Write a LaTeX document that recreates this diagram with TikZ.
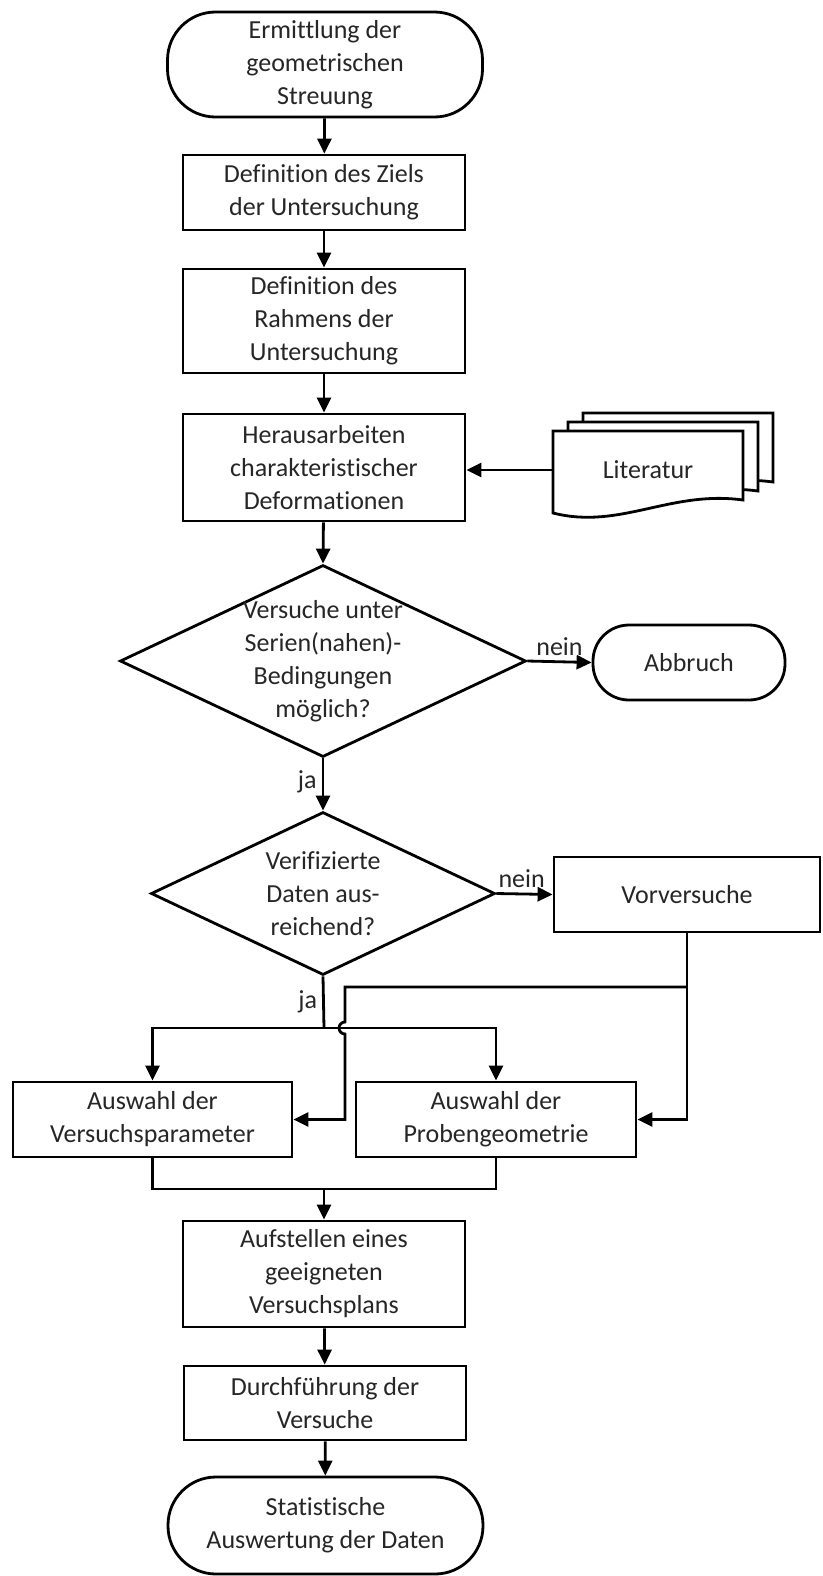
\documentclass[tikz,border=0pt]{standalone}
\usepackage{fontspec}
\setmainfont{Carlito}[Ligatures=NoCommon]
\usetikzlibrary{positioning,arrows.meta,shapes.geometric}

\begin{document}
\begin{tikzpicture}[
    x=0.5pt, y=-0.5pt,
    procbox/.style = {
        rectangle,
        draw=black,
        line width=1.4pt,
        fill=white,
        text=black!85,
        minimum width=141pt,
        align=center,
        inner sep=0pt,
        font=\fontsize{13}{16.5}\selectfont
    },
    termbox/.style = {
        procbox,
        minimum width=157.5pt,
        rounded corners=24pt
    },
    decbox/.style = {
        diamond,
        draw=black,
        line width=1.4pt,
        fill=white,
        inner sep=0pt
    },
    dectext/.style = {
        text=black!85,
        align=center,
        inner sep=0pt,
        font=\fontsize{13}{16.5}\selectfont
    },
    docsheet/.style = {
        draw=black,
        line width=1.4pt,
        fill=white
    },
    lbl/.style = {
        text=black!85,
        inner sep=2.5pt,
        font=\fontsize{13}{16.5}\selectfont
    },
    arrow/.style = {
        -{Triangle[length=7.5pt,width=7pt]},
        line width=1.4pt,
        draw=black
    },
    line/.style = {
        line width=1.4pt,
        draw=black
    }
]
\useasboundingbox (0,0) rectangle (823,1576);

% main column
\node (start) [termbox, minimum height=52.5pt] at (325,64.5) {Ermittlung der\\ geometrischen\\ Streuung};
\node (ziel) [procbox, minimum height=37.5pt] at (324,192.5) {Definition des Ziels\\ der Untersuchung};
\node (rahmen) [procbox, minimum height=52pt] at (324,321) {Definition des\\ Rahmens der\\ Untersuchung};
\node (deform) [procbox, minimum height=53.5pt] at (324,467.5) {Herausarbeiten\\ charakteristischer\\ Deformationen};

% literature stack
\draw [docsheet] (583,413) -- (773,413) -- (773,482) .. controls (700,472) and (650,512) .. (583,495) -- cycle;
\draw [docsheet] (568,422) -- (758,422) -- (758,491) .. controls (685,481) and (635,521) .. (568,504) -- cycle;
\draw [docsheet] (553,431) -- (743,431) -- (743,500) .. controls (670,490) and (620,530) .. (553,513) -- cycle;
\node (lit) [lbl, minimum width=95pt, inner sep=0pt] at (648,470) {Literatur};

% decisions
\node (d1) [decbox, minimum width=203pt, minimum height=96pt] at (323,661) {};
\node (d1txt) [dectext] at (d1.center) {Versuche unter\\ Serien(nahen)-\\ Bedingungen\\ möglich?};
\node (abbr) [termbox, minimum width=96pt, minimum height=37.5pt, rounded corners=18pt] at (689,662.5) {Abbruch};
\node (d2) [decbox, minimum width=172pt, minimum height=81.5pt] at (323,893.5) {};
\node (d2txt) [dectext] at (d2.center) {Verifizierte\\ Daten aus-\\ reichend?};
\node (vorv) [procbox, minimum width=133pt, minimum height=37.5pt] at (687,894.5) {Vorversuche};

% parallel selection
\node (param) [procbox, minimum width=139.5pt, minimum height=37.5pt] at (152.5,1119.5) {Auswahl der\\ Versuchsparameter};
\node (geom) [procbox, minimum width=140pt, minimum height=37.5pt] at (496,1119.5) {Auswahl der\\ Probengeometrie};

\node (plan) [procbox, minimum height=53pt] at (324,1274) {Aufstellen eines\\ geeigneten\\ Versuchsplans};
\node (durch) [procbox, minimum height=37pt] at (325,1403) {Durchführung der\\ Versuche};
\node (ende) [termbox, minimum height=48.5pt] at (325.5,1525.5) {Statistische\\ Auswertung der Daten};

\coordinate (jb) at (324,1028);
\coordinate (vsplit) at (687,987);
\coordinate (feed) at (345,987);
\coordinate (merge) at (324,1189);

\draw [arrow] (start) -- (ziel);
\draw [arrow] (ziel) -- (rahmen);
\draw [arrow] (rahmen) -- (deform);
\draw [arrow] (lit.west) -- (lit.west -| deform.east);
\draw [arrow] (deform) -- (d1.north);
\draw [arrow] (d1.east) -- node [lbl, above] {nein} (abbr.west);
\draw [arrow] (d1.south) -- node [lbl, left, pos=0.45] {ja} (d2.north);
\draw [arrow] (d2.east) -- node [lbl, above, pos=0.45] {nein} (vorv.west);
\draw [line] (d2.south) -- node [lbl, left] {ja} (jb);
\draw [arrow] (jb) -| (param.north);
\draw [arrow] (jb) -| (geom.north);
\draw [arrow] (vorv.south) |- (geom.east);
\draw [arrow] (vsplit) -- (feed) -- ++(0,35) arc [start angle=90, end angle=270, radius=3pt] -- (feed |- param.east) -- (param.east);
\draw [line] (param.south) |- (merge) -| (geom.south);
\draw [arrow] (merge) -- (plan.north);
\draw [arrow] (plan) -- (durch);
\draw [arrow] (durch) -- (ende);

\end{tikzpicture}
\end{document}
